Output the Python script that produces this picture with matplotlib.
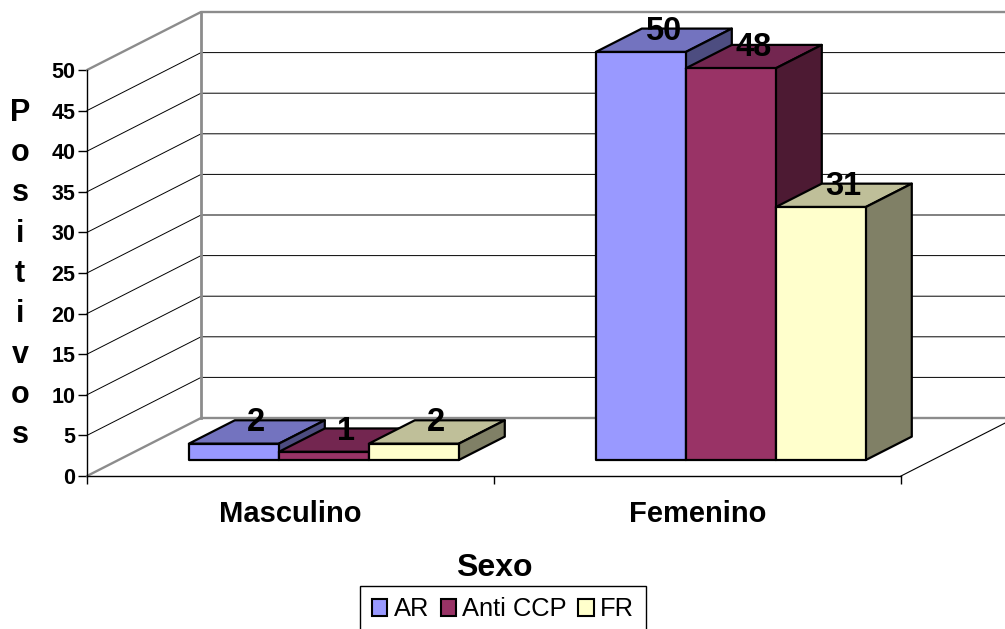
import matplotlib
matplotlib.use('Agg')
import matplotlib.pyplot as plt
from matplotlib.patches import Patch, Polygon

plt.rcParams['font.family'] = ['Liberation Sans', 'DejaVu Sans']

categories = ['Masculino', 'Femenino']
series_names = ['AR', 'Anti CCP', 'FR']
ar = [2, 50]
anti_ccp = [1, 48]
fr = [2, 31]
y_ticks = [0, 5, 10, 15, 20, 25, 30, 35, 40, 45, 50]

front_colors = ['#9999FF', '#993366', '#FFFFCC']
top_colors = ['#7373BF', '#732650', '#BFBF99']
side_colors = ['#4D4D80', '#4D1A33', '#808066']

# oblique depth of the fake 3d box, in data units
DEPTH_X = 114 / 407
DEPTH_Y = 58 / 8.12
BAR_D0 = 0.276
BAR_D1 = 0.679
BAR_W = 0.2211
BAR_START = 0.173
BAR_SCALE = 1.005


def proj(x, y, d):
    return (x + d * DEPTH_X, y + d * DEPTH_Y)


fig = plt.figure(figsize=(10.05, 6.29), dpi=100)
ax = fig.add_axes([87 / 1005, 1 - 476 / 629, 814 / 1005, 406 / 629])
ax.set_xlim(0, 2)
ax.set_ylim(0, 50)
ax.patch.set_visible(False)

for s in ['top', 'right']:
    ax.spines[s].set_visible(False)
ax.spines['left'].set_linewidth(1.0)
ax.spines['bottom'].set_linewidth(1.0)

wall = dict(color='#8c8c8c', lw=1.7, clip_on=False, zorder=2, solid_capstyle='round')
grid = dict(color='black', lw=0.7, clip_on=False, zorder=1)

# gridlines on the left and back walls
for v in y_ticks[1:-1]:
    p0 = proj(0, v, 0)
    p1 = proj(0, v, 1)
    p2 = proj(2, v, 1)
    ax.plot([p0[0], p1[0], p2[0]], [p0[1], p1[1], p2[1]], **grid)

# walls and floor
p0 = proj(0, 50, 0)
p1 = proj(0, 50, 1)
p2 = proj(2, 50, 1)
ax.plot([p0[0], p1[0], p2[0]], [p0[1], p1[1], p2[1]], **wall)
p3 = proj(0, 0, 1)
ax.plot([p1[0], p3[0]], [p1[1], p3[1]], color='#8c8c8c', lw=2.0, clip_on=False, zorder=2)
p4 = proj(0, 0, 0)
p5 = proj(2, 0, 1)
ax.plot([p4[0], p3[0], p5[0]], [p4[1], p3[1], p5[1]], **wall)
p6 = proj(2, 0, 0)
ax.plot([p6[0], p5[0]], [p6[1], p5[1]], color='black', lw=0.8, clip_on=False, zorder=2)

# bars, left to right so the next bar hides the side of the previous one
z = 3
for i in range(len(categories)):
    for j, values in enumerate([ar, anti_ccp, fr]):
        h = values[i] * BAR_SCALE
        left = i + BAR_START + j * BAR_W
        right = left + BAR_W
        faces = [
            ([proj(left, h, BAR_D0), proj(right, h, BAR_D0), proj(right, h, BAR_D1), proj(left, h, BAR_D1)], top_colors[j]),
            ([proj(right, 0, BAR_D0), proj(right, h, BAR_D0), proj(right, h, BAR_D1), proj(right, 0, BAR_D1)], side_colors[j]),
            ([proj(left, 0, BAR_D0), proj(right, 0, BAR_D0), proj(right, h, BAR_D0), proj(left, h, BAR_D0)], front_colors[j]),
        ]
        for pts, col in faces:
            ax.add_patch(Polygon(pts, closed=True, facecolor=col, edgecolor='black', lw=1.6,
                                 joinstyle='round', clip_on=False, zorder=z))
        z += 1

# value labels on top, after all the bars
for i in range(len(categories)):
    for j, values in enumerate([ar, anti_ccp, fr]):
        h = values[i] * BAR_SCALE
        left = i + BAR_START + j * BAR_W
        cx, cy = proj(left + BAR_W / 2, h, (BAR_D0 + BAR_D1) / 2)
        ax.annotate(str(values[i]), (cx, cy), xytext=(-0.5, 6.5), textcoords='offset points',
                    ha='center', va='center', fontsize=23.5, fontweight='bold', zorder=50,
                    annotation_clip=False)

ax.set_yticks(y_ticks)
ax.set_yticklabels([str(v) for v in y_ticks], fontsize=15.5, fontweight='bold')
ax.tick_params(axis='y', length=6.5, width=1.0, pad=2)
ax.set_xticks([0, 1, 2])
ax.set_xticklabels([])
ax.tick_params(axis='x', which='major', length=6, width=1.0)
ax.set_xticks([0.5, 1.5], minor=True)
ax.set_xticklabels(categories, minor=True, fontsize=21, fontweight='bold')
ax.tick_params(axis='x', which='minor', length=0, pad=17.5)

fig.text(20 / 1005, 1 - 274 / 629, 'P\no\ns\ni\nt\ni\nv\no\ns', ha='center', va='center',
         fontsize=22, fontweight='bold', linespacing=1.45)
fig.text(494 / 1005, 1 - 567.5 / 629, 'Sexo', ha='center', va='center', fontsize=23, fontweight='bold')

handles = [Patch(facecolor=c, edgecolor='black', lw=1.5) for c in front_colors]
leg = fig.legend(handles, series_names, loc='upper center', bbox_to_anchor=(503 / 1005, 1 - 586 / 629),
                 ncol=3, fontsize=18.4, frameon=True, fancybox=False, edgecolor='black', framealpha=1,
                 borderpad=0.45, borderaxespad=0, handlelength=0.6, handleheight=0.6, handletextpad=0.25,
                 columnspacing=0.45)
leg.get_frame().set_linewidth(1.0)

fig.savefig('out.png', dpi=100)
